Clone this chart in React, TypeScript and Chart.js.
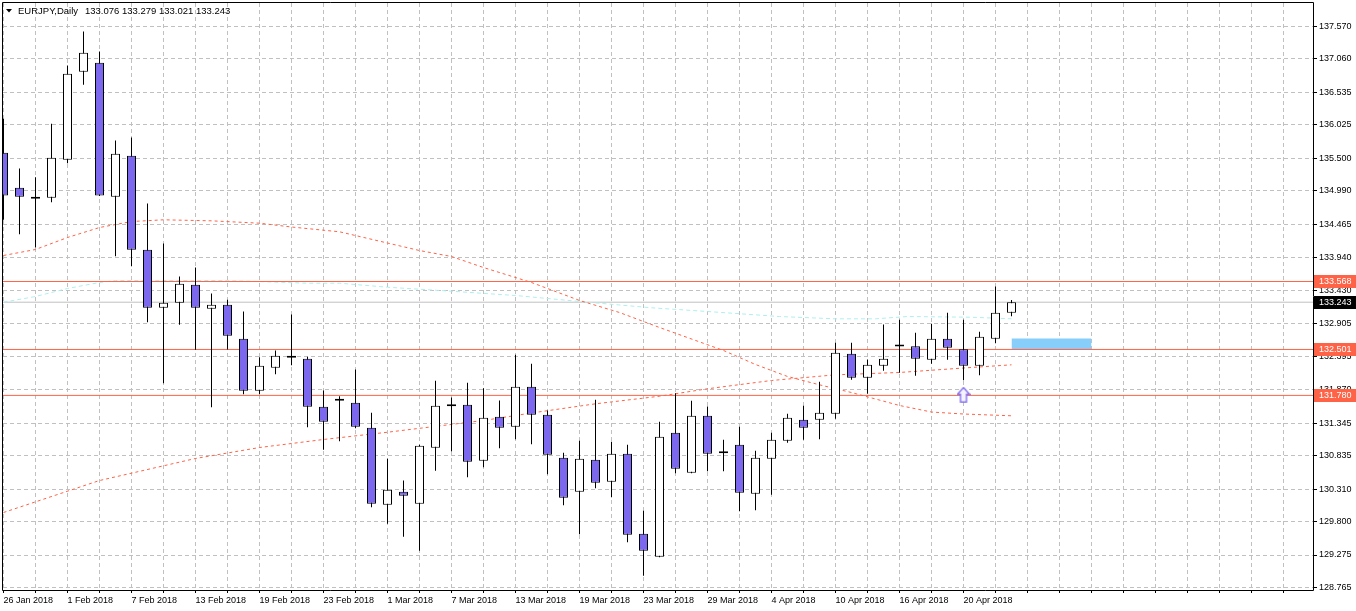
import React, { useEffect, useRef } from "react";
import { Chart, registerables } from "chart.js";
Chart.register(...registerables);

const SYMBOL = "EURJPY,Daily";
const DATE_LABELS = [
  "26 Jan 2018", "1 Feb 2018", "7 Feb 2018", "13 Feb 2018", "19 Feb 2018", "23 Feb 2018",
  "1 Mar 2018", "7 Mar 2018", "13 Mar 2018", "19 Mar 2018", "23 Mar 2018", "29 Mar 2018",
  "4 Apr 2018", "10 Apr 2018", "16 Apr 2018", "20 Apr 2018",
];

const OPEN = [
  135.588, 135.038, 134.881, 134.881, 135.478, 136.859, 137.0, 134.897, 135.541, 134.065,
  133.155, 133.233, 133.516, 133.139, 133.202, 132.668, 131.852, 132.213, 132.402, 132.355,
  131.601, 131.727, 131.664, 131.272, 130.063, 130.267, 130.079, 130.958, 131.626, 131.632,
  130.753, 131.444, 131.287, 131.915, 131.476, 130.801, 130.267, 130.769, 130.424, 130.864,
  129.608, 129.247, 131.193, 130.565, 131.46, 130.889, 131.005, 130.236, 130.785, 131.067,
  131.397, 131.397, 131.491, 132.433, 132.056, 132.245, 132.563, 132.552, 132.339, 132.668,
  132.505, 132.245, 132.668, 133.076,
];
const HIGH = [
  136.121, 135.341, 135.205, 136.043, 136.958, 137.491, 137.178, 135.781, 135.828, 134.792,
  134.164, 133.646, 133.787, 133.379, 133.28, 133.097, 132.38, 132.485, 133.05, 132.386,
  131.857, 131.767, 132.187, 131.507, 130.785, 130.444, 131.005, 132.009, 131.747, 131.978,
  131.893, 131.7, 132.417, 132.276, 131.543, 130.879, 131.067, 131.711, 131.052, 131.005,
  129.969, 131.366, 131.815, 131.695, 131.606, 131.083, 131.287, 130.911, 131.193, 131.491,
  131.617, 131.993, 132.605, 132.605, 132.344, 132.893, 132.967, 132.762, 132.904, 133.076,
  132.967, 132.778, 133.489, 133.279,
];
const LOW = [
  134.536, 134.31, 134.101, 134.812, 135.424, 136.655, 134.91, 133.965, 133.808, 132.929,
  131.971, 132.888, 132.496, 131.595, 132.5, 131.799, 131.799, 132.113, 132.254, 131.281,
  130.926, 131.061, 131.265, 130.025, 129.765, 129.561, 129.341, 130.597, 130.904, 130.496,
  130.653, 130.951, 131.093, 131.014, 130.543, 130.057, 129.602, 130.324, 130.182, 129.476,
  128.949, 129.24, 130.559, 130.56, 130.59, 130.59, 129.963, 129.978, 130.22, 131.036,
  131.083, 131.093, 131.413, 132.025, 131.805, 132.166, 132.135, 132.088, 132.276, 132.339,
  132.019, 132.097, 132.599, 133.021,
];
const CLOSE = [
  134.918, 134.897, 134.881, 135.509, 136.828, 137.157, 134.918, 135.572, 134.065, 133.155,
  133.233, 133.532, 133.155, 133.202, 132.715, 131.852, 132.245, 132.402, 132.37, 131.601,
  131.366, 131.695, 131.287, 130.079, 130.298, 130.204, 130.989, 131.617, 131.626, 130.738,
  131.428, 131.272, 131.915, 131.476, 130.848, 130.173, 130.785, 130.408, 130.864, 129.592,
  129.341, 131.13, 130.628, 131.46, 130.864, 130.889, 130.251, 130.801, 131.083, 131.428,
  131.272, 131.507, 132.449, 132.056, 132.26, 132.355, 132.563, 132.355, 132.668, 132.527,
  132.245, 132.7, 133.076, 133.243,
];

const Y_TICKS = [
  137.57, 137.06, 136.535, 136.025, 135.5, 134.99, 134.465, 133.94, 133.43, 132.905,
  132.395, 131.87, 131.345, 130.835, 130.31, 129.8, 129.275, 128.765,
];

const MA_SLOW_X = [0, 6, 12, 16, 20, 24, 30, 33, 37, 41, 44, 48, 52, 56, 60, 63];
const MA_SLOW_Y = [
  129.942, 130.444, 130.79, 130.962, 131.088, 131.202, 131.386, 131.504, 131.648, 131.767,
  131.884, 132.014, 132.103, 132.14, 132.21, 132.26,
];
const MA_FAST_X = [0, 2, 4, 6, 8, 10, 13, 16, 18, 21, 26, 28, 30, 33, 36, 38.5, 41, 45, 47, 49, 51, 53, 56, 58, 60, 63];
const MA_FAST_Y = [
  133.976, 134.07, 134.258, 134.415, 134.509, 134.536, 134.52, 134.483, 134.423, 134.348,
  134.054, 133.96, 133.787, 133.552, 133.27, 133.081, 132.846, 132.485, 132.265, 132.077,
  131.946, 131.825, 131.622, 131.519, 131.488, 131.46,
];
const CYAN_X = [0, 2, 4, 6, 7, 10, 14, 19, 21, 24, 28, 32, 36.5, 40.5, 44, 48.5, 52, 54.5, 56.5, 60.5, 63];
const CYAN_Y = [
  133.243, 133.332, 133.458, 133.552, 133.583, 133.583, 133.583, 133.541, 133.541, 133.478,
  133.415, 133.348, 133.243, 133.155, 133.097, 133.018, 132.982, 132.982, 133.018, 133.007,
  132.982,
];

const RED_LEVELS = [133.568, 132.501, 131.78];
const LAST_PRICE = 133.243;
const ZONE_X = [63, 68];
const ZONE_Y = [132.501, 132.673];
const ARROW_X = [60];
const ARROW_Y = [131.79];

const RED = "#FF6347";
const PURPLE = "#7B68EE";
const FONT = '"Liberation Sans", Arial, sans-serif';

export default function App() {
  const ref = useRef<HTMLCanvasElement>(null);

  useEffect(() => {
    document.body.style.margin = "0";
    const canvas = ref.current!;

    const arrowImg = document.createElement("canvas");
    arrowImg.width = 14;
    arrowImg.height = 16;
    const a = arrowImg.getContext("2d")!;
    a.beginPath();
    a.moveTo(7, 0.8);
    a.lineTo(13.2, 7.5);
    a.lineTo(10, 7.5);
    a.lineTo(10, 15.2);
    a.lineTo(4, 15.2);
    a.lineTo(4, 7.5);
    a.lineTo(0.8, 7.5);
    a.closePath();
    a.fillStyle = "#F4F2FF";
    a.fill();
    a.strokeStyle = PURPLE;
    a.lineWidth = 1.3;
    a.stroke();

    const idx = OPEN.map((_, i) => i);
    const bodies = idx.map((i) => {
      let lo = Math.min(OPEN[i], CLOSE[i]);
      let hi = Math.max(OPEN[i], CLOSE[i]);
      if (hi - lo < 0.02) {
        const m = (hi + lo) / 2;
        lo = m - 0.016;
        hi = m + 0.016;
      }
      return { x: i, y: [lo, hi] };
    });
    const bodyColors = idx.map((i) => (CLOSE[i] < OPEN[i] ? PURPLE : "#FFFFFF"));
    const wicks = idx.map((i) => ({ x: i, y: [LOW[i], HIGH[i]] }));
    const pts = (xs: number[], ys: number[]) => xs.map((x, i) => ({ x, y: ys[i] }));
    const hline = (v: number) => [{ x: -2, y: v }, { x: 90, y: v }];

    const lineBase = { type: "line" as const, pointRadius: 0, fill: false, tension: 0, clip: 0 };

    const datasets: any[] = [
      {
        ...lineBase,
        data: pts(ARROW_X, ARROW_Y),
        showLine: false,
        pointStyle: arrowImg,
        pointRadius: 7,
        order: 0,
      },
      {
        type: "bar",
        data: bodies,
        backgroundColor: bodyColors,
        borderColor: "#000",
        borderWidth: 1,
        borderSkipped: false,
        barThickness: 9,
        grouped: false,
        inflateAmount: 0,
        clip: 0,
        order: 1,
      },
      {
        type: "bar",
        data: wicks,
        backgroundColor: "#000",
        borderWidth: 0,
        barThickness: 1,
        grouped: false,
        inflateAmount: 0,
        clip: 0,
        order: 2,
      },
      ...RED_LEVELS.map((v) => ({
        ...lineBase,
        data: hline(v),
        borderColor: RED,
        borderWidth: 1,
        order: 3,
      })),
      {
        ...lineBase,
        data: pts(ZONE_X, [ZONE_Y[1], ZONE_Y[1]]),
        fill: { value: ZONE_Y[0] },
        backgroundColor: "#87CEFA",
        borderWidth: 0,
        borderColor: "rgba(0,0,0,0)",
        order: 4,
      },
      {
        ...lineBase,
        data: pts(MA_SLOW_X, MA_SLOW_Y),
        borderColor: RED,
        borderWidth: 1,
        borderDash: [3, 3],
        order: 5,
      },
      {
        ...lineBase,
        data: pts(MA_FAST_X, MA_FAST_Y),
        borderColor: RED,
        borderWidth: 1,
        borderDash: [3, 3],
        order: 5,
      },
      {
        ...lineBase,
        data: pts(CYAN_X, CYAN_Y),
        borderColor: "#AFEEEE",
        borderWidth: 1,
        borderDash: [4, 3],
        order: 6,
      },
      {
        ...lineBase,
        data: hline(LAST_PRICE),
        borderColor: "#C0C0C0",
        borderWidth: 1,
        order: 7,
      },
    ];

    const overlay = {
      id: "mt4overlay",
      afterDraw(chart: any) {
        const { ctx, chartArea: ca, scales } = chart;
        const ys = scales.y;
        ctx.save();
        ctx.setLineDash([]);
        ctx.strokeStyle = "#000";
        ctx.lineWidth = 1;
        ctx.beginPath();
        ctx.moveTo(ca.left - 0.5, ca.top - 0.5);
        ctx.lineTo(ca.right + 0.5, ca.top - 0.5);
        ctx.lineTo(ca.right + 0.5, ca.bottom + 0.5);
        ctx.lineTo(ca.left - 0.5, ca.bottom + 0.5);
        ctx.closePath();
        ctx.stroke();

        // price markers on the axis
        const markers = [
          ...RED_LEVELS.map((v) => ({ v, bg: RED })),
          { v: LAST_PRICE, bg: "#000" },
        ];
        ctx.font = `9px ${FONT}`;
        ctx.textBaseline = "middle";
        ctx.textAlign = "left";
        for (const m of markers) {
          const py = Math.round(ys.getPixelForValue(m.v));
          ctx.fillStyle = m.bg;
          ctx.fillRect(ca.right + 1, py - 6, 43, 13);
          ctx.fillStyle = "#fff";
          ctx.fillText(m.v.toFixed(3), ca.right + 6, py + 0.5);
        }

        // title
        ctx.fillStyle = "#000";
        ctx.beginPath();
        ctx.moveTo(6, 9);
        ctx.lineTo(12, 9);
        ctx.lineTo(9, 12.5);
        ctx.closePath();
        ctx.fill();
        ctx.font = `9.5px ${FONT}`;
        ctx.textBaseline = "alphabetic";
        ctx.fillText(SYMBOL, 18, 14);
        const n = OPEN.length - 1;
        ctx.fillText(
          [OPEN[n], HIGH[n], LOW[n], CLOSE[n]].map((v) => v.toFixed(3)).join(" "),
          85,
          14
        );
        ctx.restore();
      },
    };

    const chart = new Chart(canvas, {
      type: "bar",
      data: { datasets },
      options: {
        animation: false,
        responsive: false,
        events: [],
        layout: { padding: { left: 3, top: 3, right: 0, bottom: 0 }, autoPadding: false },
        plugins: { legend: { display: false }, tooltip: { enabled: false }, title: { display: false } },
        scales: {
          x: {
            type: "linear",
            min: -0.03125,
            max: 81.84375,
            offset: false,
            grid: {
              offset: false,
              color: "#C0C0C0",
              tickColor: "#000",
              tickLength: 3,
              tickBorderDash: [],
            },
            border: { display: false, dash: [4, 3] },
            ticks: {
              autoSkip: false,
              maxRotation: 0,
              minRotation: 0,
              align: "start",
              padding: 2,
              color: "#000",
              font: { family: FONT, size: 9 },
              callback: (v: any) => {
                const k = Number(v);
                return k % 4 === 0 && k / 4 < DATE_LABELS.length ? DATE_LABELS[k / 4] : "";
              },
            },
            afterBuildTicks: (s: any) => {
              const t = [];
              for (let v = 0; v <= 80; v += 2) t.push({ value: v });
              s.ticks = t;
            },
            afterFit: (s: any) => {
              s.height = 21;
              s.paddingLeft = 0;
              s.paddingRight = 0;
            },
          } as any,
          y: {
            type: "linear",
            position: "right",
            min: 128.7258,
            max: 137.9388,
            grid: {
              color: "#C0C0C0",
              tickColor: "#000",
              tickLength: 4,
              tickBorderDash: [],
            },
            border: { display: false, dash: [4, 3] },
            ticks: {
              autoSkip: false,
              padding: 2,
              color: "#000",
              font: { family: FONT, size: 9 },
              callback: (v: any) => Number(v).toFixed(3),
            },
            afterBuildTicks: (s: any) => {
              s.ticks = Y_TICKS.map((v) => ({ value: v }));
            },
            afterFit: (s: any) => {
              s.width = 43;
              s.paddingTop = 0;
              s.paddingBottom = 0;
            },
          } as any,
        },
      } as any,
      plugins: [overlay],
    });
    return () => chart.destroy();
  }, []);

  return (
    <div style={{ position: "fixed", left: 0, top: 0, width: 1356, height: 611, background: "#fff" }}>
      <canvas ref={ref} width={1356} height={611} style={{ display: "block" }} />
    </div>
  );
}
